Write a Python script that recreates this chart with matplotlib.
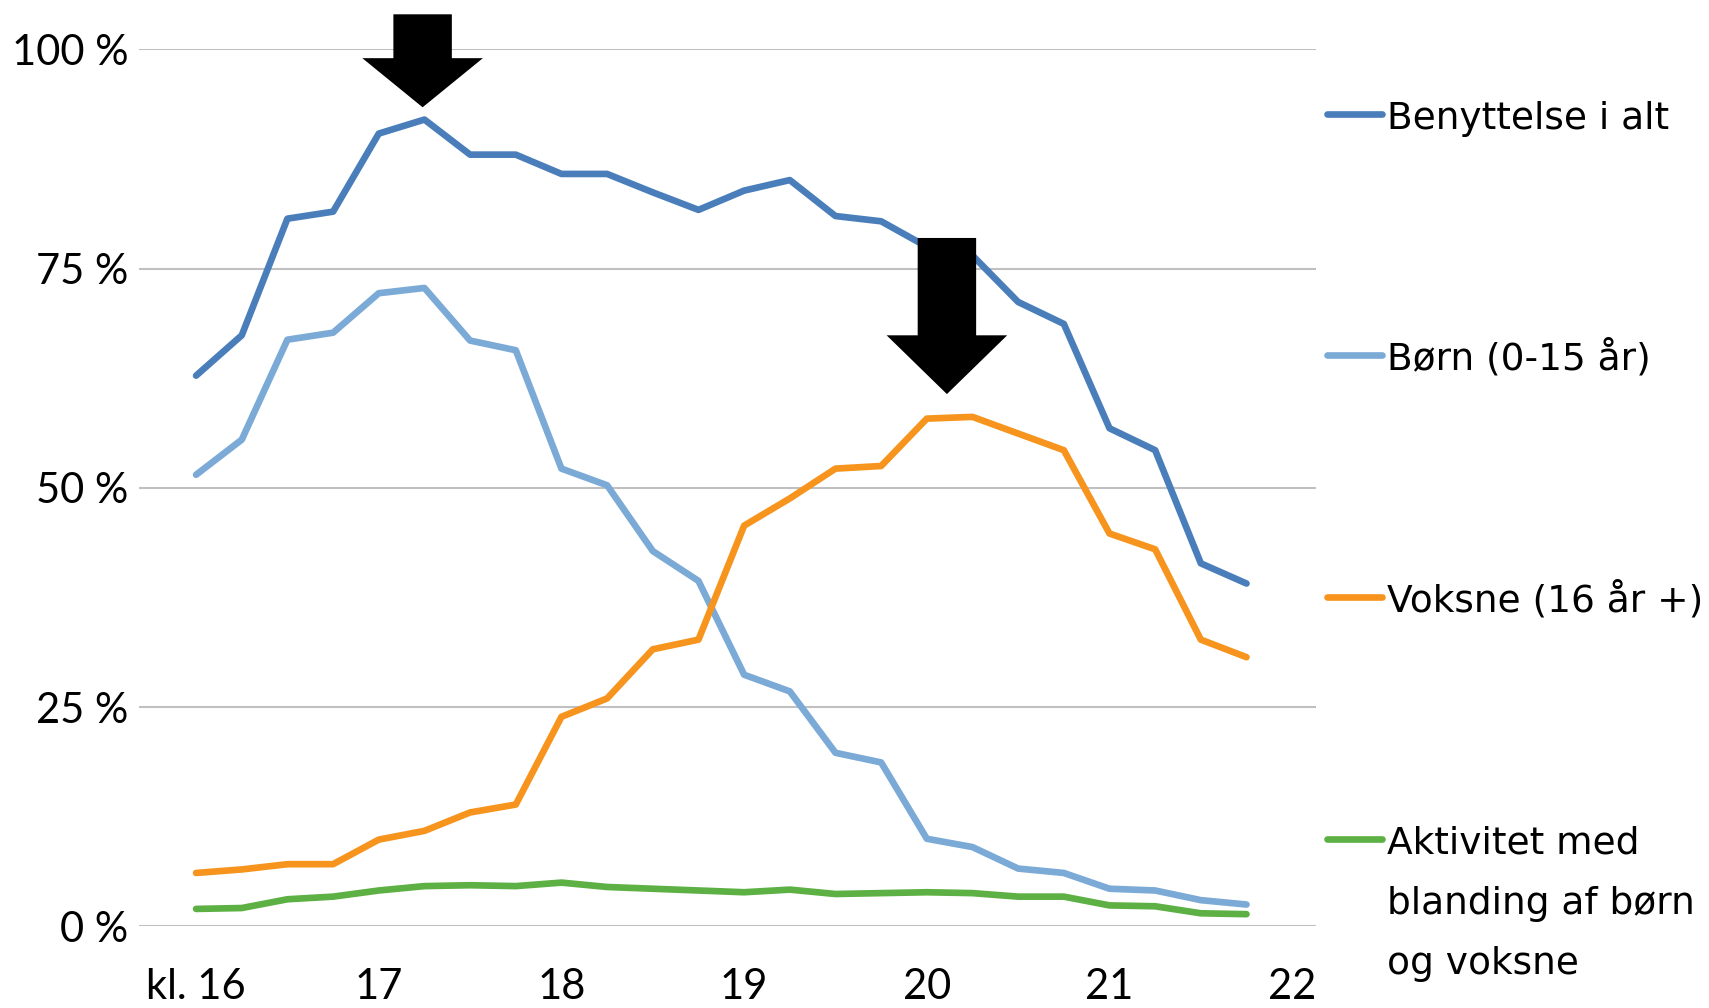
import numpy as np
import matplotlib.pyplot as plt
from matplotlib.lines import Line2D
from matplotlib.patches import FancyArrow

# --- data (share of use, %) per quarter hour ---
times = ["16:00", "16:15", "16:30", "16:45", "17:00", "17:15", "17:30", "17:45",
         "18:00", "18:15", "18:30", "18:45", "19:00", "19:15", "19:30", "19:45",
         "20:00", "20:15", "20:30", "20:45", "21:00", "21:15", "21:30", "21:45"]
total = [62.8, 67.4, 80.7, 81.5, 90.4, 92.0, 88.0, 88.0, 85.8, 85.8, 83.7, 81.7,
         83.9, 85.1, 81.0, 80.4, 77.5, 76.5, 71.2, 68.7, 56.8, 54.3, 41.4, 39.1]
children = [51.5, 55.5, 66.9, 67.7, 72.2, 72.8, 66.8, 65.7, 52.2, 50.3, 42.8, 39.4,
            28.7, 26.8, 19.8, 18.7, 10.0, 9.05, 6.6, 6.1, 4.3, 4.1, 3.0, 2.5]
adults = [6.1, 6.5, 7.1, 7.1, 9.9, 10.9, 13.0, 13.9, 23.9, 26.0, 31.6, 32.7,
          45.7, 48.8, 52.2, 52.5, 57.9, 58.1, 56.2, 54.3, 44.8, 43.0, 32.7, 30.7]
mixed = [2.0, 2.1, 3.1, 3.4, 4.1, 4.6, 4.7, 4.6, 5.0, 4.5, 4.3, 4.1,
         3.9, 4.2, 3.7, 3.8, 3.9, 3.8, 3.4, 3.4, 2.4, 2.3, 1.5, 1.4]

series_names = ["Benyttelse i alt", "Børn (0-15 år)", "Voksne (16 år +)",
                "Aktivitet med\nblanding af børn\nog voksne"]
colors = ["#4a7ebb", "#7baad7", "#f7941d", "#5db043"]

x_ticks = [16, 17, 18, 19, 20, 21, 22]
x_labels = ["kl. 16", "17", "18", "19", "20", "21", "22"]
y_ticks = [0, 25, 50, 75, 100]
y_labels = ["0 %", "25 %", "50 %", "75 %", "100 %"]

# arrows marking the two peaks: (centre hour, top %, tip %, head length %)
arrows = [(17.24, 104.0, 93.4, 5.6), (20.11, 78.5, 60.7, 6.7)]

hours = [int(t[:2]) + int(t[3:]) / 60 for t in times]

# --- plot ---
fig = plt.figure(figsize=(17.09, 10.08), dpi=100)
ax = fig.add_axes([0.0816, 0.0809, 0.6884, 0.8701])

LW = 4.8
for vals, c in zip([total, children, adults, mixed], colors):
    ax.plot(hours, vals, color=c, lw=LW, solid_capstyle="round", solid_joinstyle="round", zorder=3)

ax.set_xlim(15.69, 22.13)
ax.set_ylim(0, 100)
ax.set_xticks(x_ticks)
ax.set_xticklabels(x_labels)
ax.set_yticks(y_ticks)
ax.set_yticklabels(y_labels)
ax.tick_params(length=0, labelsize=30)
ax.tick_params(axis="x", pad=30)
ax.tick_params(axis="y", pad=8)
for lab in ax.get_xticklabels() + ax.get_yticklabels():
    lab.set_fontfamily("Lato")
ax.grid(axis="y", color="#c0c0c0", lw=1.5, zorder=1)
for s in ax.spines.values():
    s.set_visible(False)

for xc, top, tip, hl in arrows:
    ax.add_patch(FancyArrow(xc, top, 0, tip - top, width=0.32, head_width=0.66,
                            head_length=hl, length_includes_head=True,
                            color="black", lw=0, clip_on=False, zorder=5))

# manual legend on the right
leg_y = [0.887, 0.648, 0.408, 0.168]
line_step = 0.0595
for name, c, yy in zip(series_names, colors, leg_y):
    fig.add_artist(Line2D([0.7765, 0.8085], [yy, yy], color=c, lw=LW,
                          solid_capstyle="round", transform=fig.transFigure))
    for i, part in enumerate(name.split("\n")):
        fig.text(0.8115, yy - 0.0150 - i * line_step, part, fontsize=27,
                 family="DejaVu Sans", va="baseline", ha="left")

fig.savefig("out.png", dpi=100)
